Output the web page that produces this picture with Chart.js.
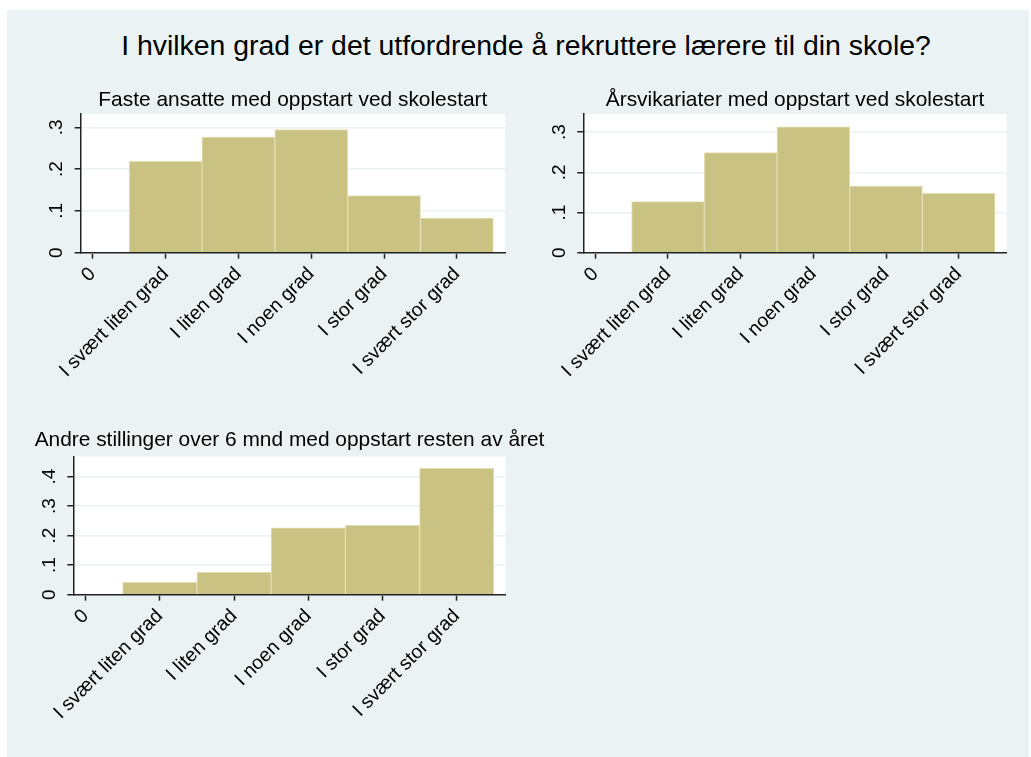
<!DOCTYPE html>
<html lang="no">
<head>
    <meta charset="UTF-8">
    <title>Rekruttering av lærere</title>
    <script src="https://cdn.jsdelivr.net/npm/chart.js"></script>
    <style>
        html, body { margin: 0; padding: 0; background: #fff; overflow: hidden; }
        #bg {
            position: absolute; left: 7px; top: 10px; width: 1022px; height: 747px;
            background: #eaf2f3;
        }
        #mainTitle {
            position: absolute; left: 15px; top: 27px; width: 1022px;
            text-align: center; font-family: "Liberation Sans", Arial, sans-serif;
            font-size: 28.4px; line-height: 36px; color: #000;
        }
        canvas { position: absolute; }
    </style>
</head>
<body>
    <div id="bg"></div>
    <div id="mainTitle">I hvilken grad er det utfordrende å rekruttere lærere til din skole?</div>
    <canvas id="c1"></canvas>
    <canvas id="c2"></canvas>
    <canvas id="c3"></canvas>

    <script>
        // tick labels on the x axis (0 = no answer)
        const xLabels = ['0', 'I svært liten grad', 'I liten grad', 'I noen grad', 'I stor grad', 'I svært stor grad'];
        const xTicks = [0, 1, 2, 3, 4, 5];

        // density per answer category
        const fasteValues = [0.219, 0.277, 0.295, 0.137, 0.083];
        const vikarValues = [0.127, 0.249, 0.313, 0.166, 0.148];
        const andreValues = [0.042, 0.076, 0.226, 0.235, 0.428];

        const yTicksSmall = [0, 0.1, 0.2, 0.3];
        const yTicksLarge = [0, 0.1, 0.2, 0.3, 0.4];

        const FONT = '"Liberation Sans", Arial, sans-serif';

        // white plot region like Stata
        const plotBg = {
            id: 'plotBg',
            beforeDraw(chart) {
                const a = chart.chartArea;
                chart.ctx.save();
                chart.ctx.fillStyle = '#ffffff';
                chart.ctx.fillRect(a.left, a.top, a.right - a.left, a.bottom - a.top);
                chart.ctx.restore();
            }
        };

        // center the subplot title over the plot region, not the canvas
        const centerTitle = {
            id: 'centerTitle',
            afterLayout(chart) {
                const t = chart.titleBlock;
                if (!t) return;
                const cx = (chart.chartArea.left + chart.chartArea.right) / 2;
                t.left = cx - 400;
                t.right = cx + 400;
            }
        };

        function yLabel(v) {
            if (v === 0) return '0';
            return '.' + Math.round(v * 10);
        }

        function makePanel(id, box, title, values, yTicks, yMax) {
            const cv = document.getElementById(id);
            cv.style.left = box.left + 'px';
            cv.style.top = box.top + 'px';
            cv.width = box.w;
            cv.height = box.h;

            return new Chart(cv, {
                type: 'bar',
                data: {
                    datasets: [{
                        data: values.map((v, i) => ({ x: i + 1, y: v })),
                        backgroundColor: '#cac282',
                        borderColor: '#e3dfb4',
                        borderWidth: 1,
                        barPercentage: 1,
                        categoryPercentage: 1
                    }]
                },
                options: {
                    responsive: false,
                    animation: false,
                    layout: { padding: { left: 0, right: box.rp, top: 0, bottom: 0 } },
                    plugins: {
                        legend: { display: false },
                        tooltip: { enabled: false },
                        title: {
                            display: true,
                            text: title,
                            color: '#000',
                            font: { family: FONT, size: 20.9, weight: 'normal' },
                            padding: { top: 8, bottom: box.tb }
                        }
                    },
                    scales: {
                        x: {
                            type: 'linear',
                            offset: false,
                            min: -0.165,
                            max: 5.66,
                            afterBuildTicks: s => { s.ticks = xTicks.map(v => ({ value: v })); },
                            afterFit: s => { s.height = box.xh; },
                            grid: { offset: false, drawOnChartArea: false, tickLength: 6, tickColor: '#222', tickWidth: 1.5 },
                            border: { color: '#222', width: 1.5 },
                            ticks: {
                                autoSkip: false,
                                minRotation: 45,
                                maxRotation: 45,
                                padding: 4,
                                color: '#000',
                                font: { family: FONT, size: 19.5 },
                                callback: v => xLabels[v]
                            }
                        },
                        y: {
                            min: 0,
                            max: yMax,
                            afterBuildTicks: s => { s.ticks = yTicks.map(v => ({ value: v })); },
                            afterFit: s => { s.width = box.yw; },
                            grid: { color: '#eaf2f3', lineWidth: 1.5, tickLength: 6, tickColor: '#222', tickWidth: 1.5 },
                            border: { color: '#222', width: 1.5 },
                            ticks: {
                                minRotation: 90,
                                maxRotation: 90,
                                crossAlign: 'center',
                                padding: 10,
                                color: '#000',
                                font: { family: FONT, size: 19 },
                                callback: v => yLabel(v)
                            }
                        }
                    }
                },
                plugins: [plotBg, centerTitle]
            });
        }

        makePanel('c1', { left: 20, top: 80, w: 510, h: 310, rp: 25, yw: 60.7, xh: 137.3, tb: 1.0 },
            'Faste ansatte med oppstart ved skolestart', fasteValues, yTicksSmall, 0.332);
        makePanel('c2', { left: 520, top: 80, w: 511, h: 310, rp: 24.3, yw: 63.3, xh: 137.3, tb: 1.0 },
            'Årsvikariater med oppstart ved skolestart', vikarValues, yTicksSmall, 0.345);
        makePanel('c3', { left: 15, top: 420, w: 540, h: 320, rp: 49.3, yw: 58.3, xh: 145.3, tb: 3.4 },
            'Andre stillinger over 6 mnd med oppstart resten av året', andreValues, yTicksLarge, 0.468);
    </script>
</body>
</html>
